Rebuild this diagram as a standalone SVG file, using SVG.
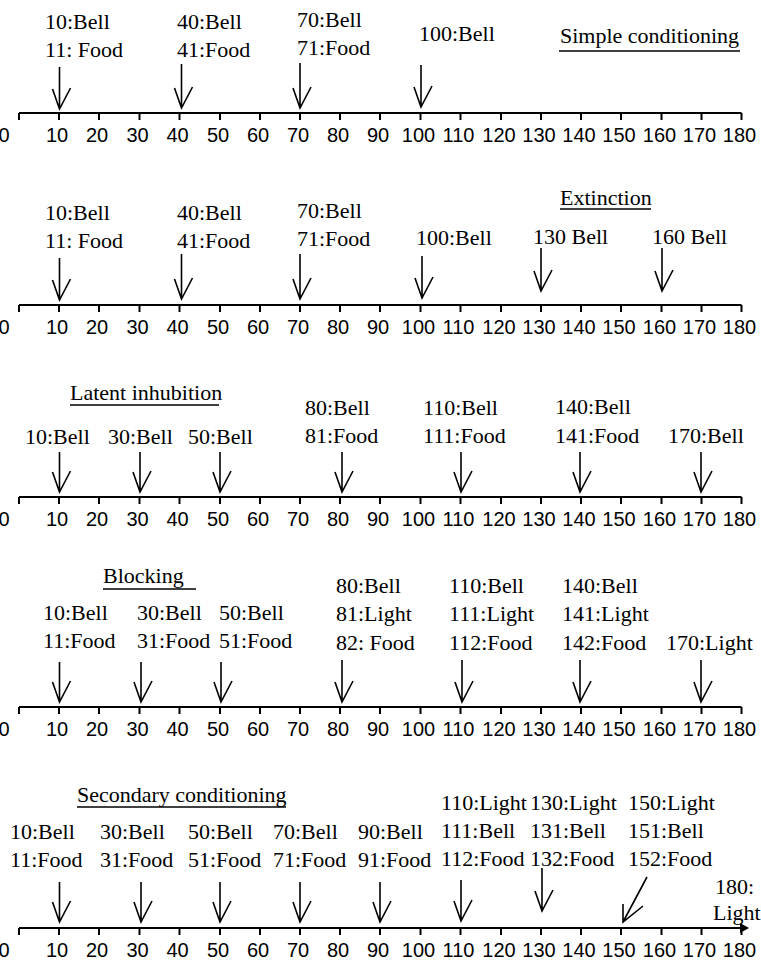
<svg xmlns="http://www.w3.org/2000/svg" xmlns:xlink="http://www.w3.org/1999/xlink" width="761" height="970" viewBox="0 0 761 970">
<style>
.lb{font-family:"Liberation Serif","Times New Roman",serif;font-size:22px;fill:#000}
.nm{font-family:"Liberation Sans",Arial,sans-serif;font-size:20px;fill:#000;text-anchor:middle}
.ax{stroke:#000;stroke-width:2;fill:none}
.ar{stroke:#000;stroke-width:1.6;fill:none}
.ul{stroke:#000;stroke-width:1.5}
</style>
<defs>
<g id="axis">
<path class="ax" d="M19,0H741.5M19,0v7M59,0v7M99,0v7M139.5,0v7M179.5,0v7M220,0v7M260,0v7M300,0v7M340,0v7M380,0v7M420.5,0v7M460.5,0v7M501,0v7M541,0v7M581,0v7M621,0v7M661.5,0v7M701.5,0v7M741.5,0v7"/>
<g class="nm">
<text x="4" y="29">0</text>
<text x="57" y="29">10</text><text x="97" y="29">20</text><text x="137.5" y="29">30</text><text x="177.5" y="29">40</text><text x="218" y="29">50</text><text x="258" y="29">60</text><text x="298" y="29">70</text><text x="338" y="29">80</text><text x="378" y="29">90</text><text x="418.5" y="29">100</text><text x="458.5" y="29">110</text><text x="499" y="29">120</text><text x="539" y="29">130</text><text x="579" y="29">140</text><text x="619" y="29">150</text><text x="659.5" y="29">160</text><text x="699.5" y="29">170</text><text x="739.5" y="29">180</text>
</g>
</g>
</defs>
<rect width="761" height="970" fill="#fff"/>

<g id="axes">
<use xlink:href="#axis" href="#axis" transform="translate(0,113)"/>
<use xlink:href="#axis" href="#axis" transform="translate(0,305)"/>
<use xlink:href="#axis" href="#axis" transform="translate(0,497)"/>
<use xlink:href="#axis" href="#axis" transform="translate(0,707)"/>
<use xlink:href="#axis" href="#axis" transform="translate(0,928)"/>
</g>

<g id="titles" class="lb">
<g id="t1"><text x="560" y="43">Simple conditioning</text><line class="ul" x1="559" y1="51" x2="740" y2="51"/></g>
<g id="t2"><text x="560" y="205">Extinction</text><line class="ul" x1="560" y1="209" x2="651" y2="209"/></g>
<g id="t3"><text x="70" y="400">Latent inhubition</text><line class="ul" x1="70" y1="405" x2="219" y2="405"/></g>
<g id="t4"><text x="103" y="583">Blocking</text><line class="ul" x1="103" y1="589" x2="196" y2="589"/></g>
<g id="t5"><text x="77" y="802">Secondary conditioning</text><line class="ul" x1="77" y1="807" x2="286" y2="807"/></g>
</g>

<g class="lb">
<g id="p1n10"><text x="45" y="29">10:Bell</text><text x="45" y="57">11: Food</text></g>
<g id="p1n40"><text x="177" y="29">40:Bell</text><text x="177" y="57">41:Food</text></g>
<g id="p1n70"><text x="297" y="27">70:Bell</text><text x="297" y="55">71:Food</text></g>
<g id="p1n100"><text x="419" y="41">100:Bell</text></g>

<g id="p2n10"><text x="45" y="220">10:Bell</text><text x="45" y="248">11: Food</text></g>
<g id="p2n40"><text x="177" y="220">40:Bell</text><text x="177" y="248">41:Food</text></g>
<g id="p2n70"><text x="297" y="218">70:Bell</text><text x="297" y="246">71:Food</text></g>
<g id="p2n100"><text x="416" y="245">100:Bell</text></g>
<g id="p2n130"><text x="533" y="244">130 Bell</text></g>
<g id="p2n160"><text x="652" y="244">160 Bell</text></g>

<g id="p3n10"><text x="25" y="444">10:Bell</text></g>
<g id="p3n30"><text x="108" y="444">30:Bell</text></g>
<g id="p3n50"><text x="188" y="444">50:Bell</text></g>
<g id="p3n80"><text x="305" y="415">80:Bell</text><text x="305" y="443">81:Food</text></g>
<g id="p3n110"><text x="423" y="415">110:Bell</text><text x="423" y="443">111:Food</text></g>
<g id="p3n140"><text x="555" y="414">140:Bell</text><text x="555" y="443">141:Food</text></g>
<g id="p3n170"><text x="668" y="443">170:Bell</text></g>

<g id="p4n10"><text x="43" y="620">10:Bell</text><text x="43" y="648">11:Food</text></g>
<g id="p4n30"><text x="137" y="620">30:Bell</text><text x="137" y="648">31:Food</text></g>
<g id="p4n50"><text x="219" y="620">50:Bell</text><text x="219" y="648">51:Food</text></g>
<g id="p4n80"><text x="336" y="593">80:Bell</text><text x="336" y="621">81:Light</text><text x="336" y="650">82: Food</text></g>
<g id="p4n110"><text x="449" y="593">110:Bell</text><text x="449" y="621">111:Light</text><text x="449" y="650">112:Food</text></g>
<g id="p4n140"><text x="562" y="593">140:Bell</text><text x="562" y="621">141:Light</text><text x="562" y="650">142:Food</text></g>
<g id="p4n170"><text x="666" y="650">170:Light</text></g>

<g id="p5n10"><text x="10" y="839">10:Bell</text><text x="10" y="867">11:Food</text></g>
<g id="p5n30"><text x="100" y="839">30:Bell</text><text x="100" y="867">31:Food</text></g>
<g id="p5n50"><text x="188" y="839">50:Bell</text><text x="188" y="867">51:Food</text></g>
<g id="p5n70"><text x="273" y="839">70:Bell</text><text x="273" y="867">71:Food</text></g>
<g id="p5n90"><text x="358" y="839">90:Bell</text><text x="358" y="867">91:Food</text></g>
<g id="p5n110"><text x="441" y="810">110:Light</text><text x="441" y="838">111:Bell</text><text x="441" y="866">112:Food</text></g>
<g id="p5n130"><text x="530" y="810">130:Light</text><text x="530" y="838">131:Bell</text><text x="530" y="866">132:Food</text></g>
<g id="p5n150"><text x="628" y="810">150:Light</text><text x="628" y="838">151:Bell</text><text x="628" y="866">152:Food</text></g>
<g id="p5n180"><text x="715" y="894">180:</text><text x="713" y="920">Light</text></g>
</g>

<g id="connectors" class="ar">
<path d="M59.5,67V109M52.5,89L59.5,109L70.5,88"/>
<path d="M181.5,64V108M174.5,88L181.5,108L192.5,87"/>
<path d="M300,63V108M293,88L300,108L311,87"/>
<path d="M421,65V107M414,87L421,107L432,86"/>

<path d="M59.5,258V300M52.5,280L59.5,300L70.5,279"/>
<path d="M181.5,254V299M174.5,279L181.5,299L192.5,278"/>
<path d="M300,254V299M293,279L300,299L311,278"/>
<path d="M422,256V298M415,278L422,298L433,277"/>
<path d="M541,248V291M534,271L541,291L552,270"/>
<path d="M662,248V291M655,271L662,291L673,270"/>

<path d="M59.5,452V492M52.5,472L59.5,492L70.5,471"/>
<path d="M140,452V492M133,472L140,492L151,471"/>
<path d="M220,452V492M213,472L220,492L231,471"/>
<path d="M342,452V492M335,472L342,492L353,471"/>
<path d="M461,452V492M454,472L461,492L472,471"/>
<path d="M580,452V492M573,472L580,492L591,471"/>
<path d="M701,452V492M694,472L701,492L712,471"/>

<path d="M59.5,662V702M52.5,682L59.5,702L70.5,681"/>
<path d="M141,662V702M134,682L141,702L152,681"/>
<path d="M221,662V702M214,682L221,702L232,681"/>
<path d="M342,660V702M335,682L342,702L353,681"/>
<path d="M462,660V702M455,682L462,702L473,681"/>
<path d="M580,660V702M573,682L580,702L591,681"/>
<path d="M701,660V702M694,682L701,702L712,681"/>

<path d="M59.5,882V922M52.5,902L59.5,922L70.5,901"/>
<path d="M141,882V922M134,902L141,922L152,901"/>
<path d="M220,882V922M213,902L220,922L231,901"/>
<path d="M300,882V922M293,902L300,922L311,901"/>
<path d="M380,882V922M373,902L380,922L391,901"/>
<path d="M461,880V921M454,901L461,921L472,900"/>
<path d="M542,868V911M535,891L542,911L553,890"/>
<path d="M647,877L623,922M623,904L623,922L643,906"/>
<path d="M740,923L749,928L740,933Z" fill="#000" stroke="none"/>
</g>
</svg>
